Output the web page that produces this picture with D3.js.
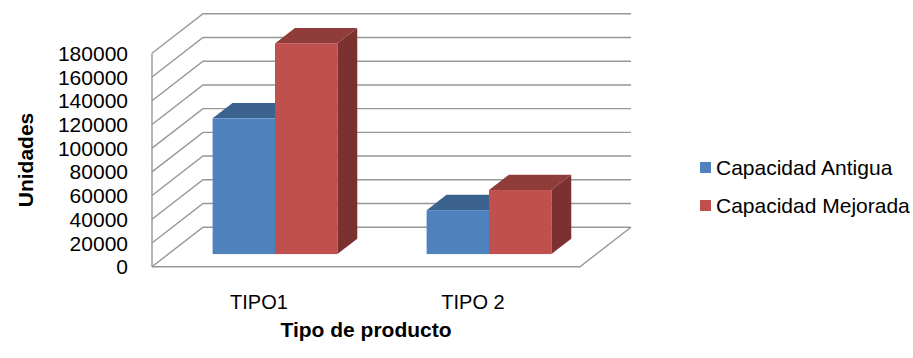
<!DOCTYPE html>
<html>
<head>
<meta charset="utf-8">
<script src="https://cdn.jsdelivr.net/npm/d3@7"></script>
<style>
  body { margin: 0; background: #fff; }
  text { font-family: "Liberation Sans", Arial, sans-serif; fill: #000; }
</style>
</head>
<body>
<svg id="chart"></svg>
<script>
// datos
var categorias = ["TIPO1", "TIPO 2"];
var series = ["Capacidad Antigua", "Capacidad Mejorada"];
var capacidadAntigua = [114500, 37000];
var capacidadMejorada = [177700, 54000];
var ticksY = [0, 20000, 40000, 60000, 80000, 100000, 120000, 140000, 160000, 180000];

var svgWidth = 913, svgHeight = 358;
var left = 152, right = 580;    // borde frontal del piso
var yBottom = 266.7, yTop = 53.3;
var depthX = 51, depthY = -39.5; // desplazamiento al fondo
var barFront = 0.32, barBack = 0.71; // profundidad de las barras (fraccion)

var colores = {
  front: ["#4f81bd", "#c0504d"],
  top:   ["#3c628f", "#903c3a"],
  side:  ["#35557d", "#7b3130"]
};

var svg = d3.select("#chart").attr("width", svgWidth).attr("height", svgHeight);

var x0 = d3.scaleBand().domain(categorias).range([left, right]);
var bw = x0.bandwidth();
var x1 = d3.scaleBand().domain(series).range([bw * 0.207, bw * 0.79]);
var y = d3.scaleLinear().domain([0, 180000]).range([yBottom, yTop]);

function pt(x, yy, f) { return [x + f * depthX, yy + f * depthY]; }
function poly(pts) { return pts.map(function(p){ return p[0] + "," + p[1]; }).join(" "); }

var grid = svg.append("g").attr("fill", "none").attr("stroke", "#979797").attr("stroke-width", 1.4);

// pared izquierda: borde frontal
grid.append("line")
  .attr("x1", left).attr("x2", left)
  .attr("y1", y(0)).attr("y2", y(180000));

ticksY.forEach(function(t){
  var a = pt(left, y(t), 0), b = pt(left, y(t), 1), c = pt(right, y(t), 1);
  grid.append("polyline").attr("points", poly([a, b, [c[0], b[1]]]));
});

// piso
var f0 = pt(left, y(0), 0), f1 = pt(right, y(0), 0), f2 = pt(right, y(0), 1);
grid.append("polyline").attr("points", poly([f0, f1, f2]));

// eje Y
svg.append("g").selectAll("text").data(ticksY).enter().append("text")
  .attr("x", 128)
  .attr("y", function(d){ return y(d); })
  .attr("dy", "0.36em")
  .attr("text-anchor", "end")
  .style("font-size", "21px")
  .text(function(d){ return d; });

// barras
var datos = [];
categorias.forEach(function(c, i){
  datos.push({cat: c, s: 0, v: capacidadAntigua[i]});
  datos.push({cat: c, s: 1, v: capacidadMejorada[i]});
});

var bars = svg.append("g");
datos.forEach(function(d){
  var xl = x0(d.cat) + x1(series[d.s]);
  var xr = xl + x1.bandwidth();
  var base = y(0), tope = y(d.v);
  var g = bars.append("g");
  // cara lateral
  g.append("polygon")
    .attr("points", poly([pt(xr, tope, barFront), pt(xr, tope, barBack), pt(xr, base, barBack), pt(xr, base, barFront)]))
    .attr("fill", colores.side[d.s]);
  // cara superior
  g.append("polygon")
    .attr("points", poly([pt(xl, tope, barFront), pt(xl, tope, barBack), pt(xr, tope, barBack), pt(xr, tope, barFront)]))
    .attr("fill", colores.top[d.s]);
  // cara frontal
  var p0 = pt(xl, tope, barFront), p1 = pt(xr, base, barFront);
  g.append("rect")
    .attr("x", p0[0]).attr("y", p0[1])
    .attr("width", p1[0] - p0[0]).attr("height", p1[1] - p0[1])
    .attr("fill", colores.front[d.s]);
});

// etiquetas de categorias
svg.append("g").selectAll("text").data(categorias).enter().append("text")
  .attr("x", function(d){ return x0(d) + bw / 2; })
  .attr("y", 309)
  .attr("text-anchor", "middle")
  .style("font-size", "20px")
  .text(function(d){ return d; });

// titulos
svg.append("text")
  .attr("x", (left + right) / 2).attr("y", 337)
  .attr("text-anchor", "middle")
  .style("font-size", "21px").style("font-weight", "bold")
  .text("Tipo de producto");

svg.append("text")
  .attr("transform", "translate(33,160) rotate(-90)")
  .attr("text-anchor", "middle")
  .style("font-size", "21px").style("font-weight", "bold")
  .text("Unidades");

// leyenda
var leg = svg.append("g").selectAll("g").data(series).enter().append("g")
  .attr("transform", function(d, i){ return "translate(700," + (167 + i * 38) + ")"; });
leg.append("rect")
  .attr("x", 0).attr("y", -5).attr("width", 11).attr("height", 11)
  .attr("fill", function(d, i){ return colores.front[i]; });
leg.append("text")
  .attr("x", 16).attr("y", 0).attr("dy", "0.36em")
  .style("font-size", "21px")
  .text(function(d){ return d; });
</script>
</body>
</html>
